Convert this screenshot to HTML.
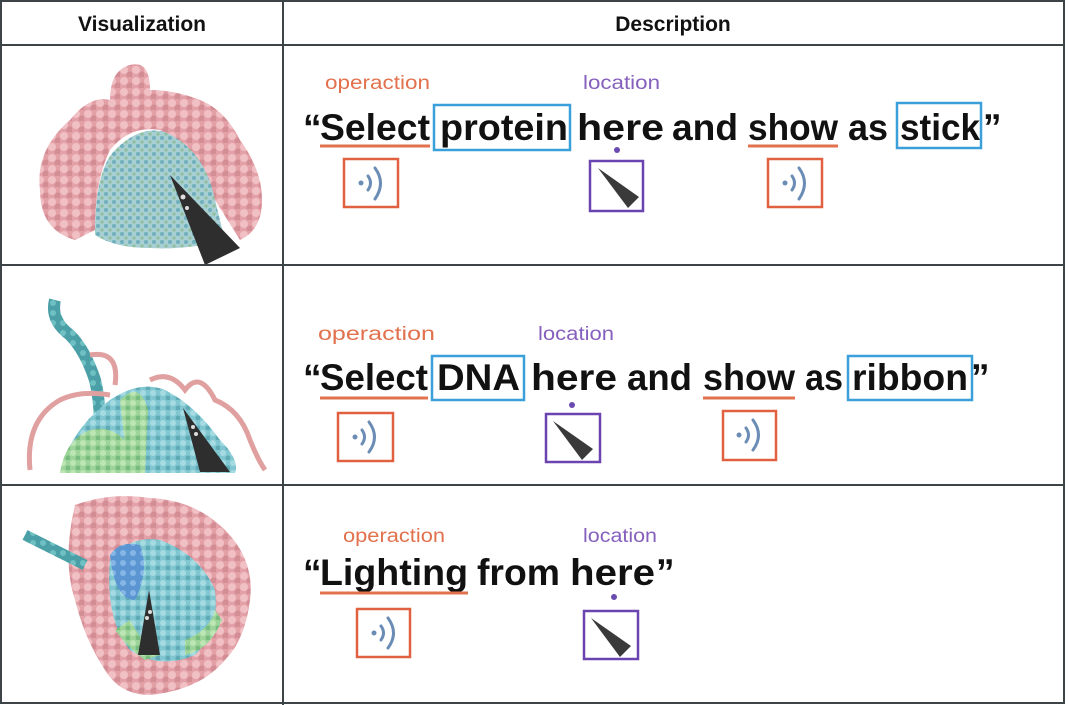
<!DOCTYPE html>
<html><head><meta charset="utf-8"><style>
html,body{margin:0;padding:0;background:#fff;}
svg{display:block;}
text{font-family:"Liberation Sans",sans-serif;}
</style></head><body>
<svg width="1068" height="705" viewBox="0 0 1068 705" xmlns="http://www.w3.org/2000/svg">
<defs>
 <pattern id="pp" width="12" height="11" patternUnits="userSpaceOnUse">
  <rect width="12" height="11" fill="#e3a0a7"/>
  <circle cx="4" cy="4" r="4" fill="#f0c0c4"/><circle cx="10" cy="9" r="3.5" fill="#d38d95"/>
 </pattern>
 <pattern id="pc" width="8" height="8" patternUnits="userSpaceOnUse">
  <rect width="8" height="8" fill="#a8cfd3"/>
  <circle cx="2" cy="2" r="2" fill="#6fb0bb"/><circle cx="6" cy="6" r="1.6" fill="#8fbf9a"/>
 </pattern>
 <pattern id="pc2" width="10" height="10" patternUnits="userSpaceOnUse">
  <rect width="10" height="10" fill="#80c7d2"/>
  <circle cx="3" cy="3" r="3" fill="#a6dbe2"/><circle cx="8" cy="8" r="2.5" fill="#5faab5"/>
 </pattern>
 <pattern id="pg" width="10" height="10" patternUnits="userSpaceOnUse">
  <rect width="10" height="10" fill="#9cd49a"/>
  <circle cx="3" cy="3" r="3" fill="#bde6b4"/><circle cx="8" cy="8" r="2.5" fill="#78bb7f"/>
 </pattern>
 <pattern id="pt" width="10" height="10" patternUnits="userSpaceOnUse">
  <rect width="10" height="10" fill="#4aa0a6"/>
  <circle cx="3" cy="3" r="3" fill="#6fc0c3"/>
 </pattern>
 <pattern id="pb" width="10" height="10" patternUnits="userSpaceOnUse">
  <rect width="10" height="10" fill="#5b96d2"/>
  <circle cx="3" cy="3" r="3" fill="#86b6e6"/>
 </pattern>
</defs>
<rect width="1068" height="705" fill="#fff"/>
<!-- row1 -->
<path d="M40,190 Q35,150 70,120 Q90,95 110,100 Q110,70 130,65 Q150,60 150,90 Q175,90 200,100 Q225,110 240,140 Q262,170 262,200 Q262,230 240,240 L215,200 Q200,150 160,130 Q130,125 110,150 Q95,180 95,230 L75,240 Q40,230 40,190Z" fill="url(#pp)"/>
<path d="M95,235 Q95,170 115,150 Q140,125 165,132 Q205,150 215,200 L225,240 Q190,250 150,248 Q115,248 95,235Z" fill="url(#pc)"/>
<!-- row2 -->
<path d="M55,300 Q50,320 70,335 Q85,350 95,380 Q100,400 100,430" stroke="url(#pt)" stroke-width="12" fill="none"/>
<path d="M60,473 Q70,430 110,400 Q140,380 165,390 Q195,405 220,440 Q240,460 235,473 Z" fill="url(#pc2)"/>
<path d="M60,473 Q65,440 90,430 Q110,425 125,440 L135,473Z" fill="url(#pg)"/>
<path d="M120,400 Q140,380 148,410 L145,473 L128,473Z" fill="url(#pg)"/>
<path d="M30,470 Q25,420 60,400 Q80,390 110,395 M90,355 Q120,350 115,385 M150,380 Q170,370 185,390 Q200,370 215,400 Q240,410 250,440 Q258,460 265,470" stroke="#e0a0a0" stroke-width="5" fill="none"/>
<!-- row3 -->
<path d="M75,505 Q110,492 150,498 Q195,500 225,530 Q255,560 250,600 Q245,640 225,660 Q200,690 150,695 Q120,695 105,670 Q85,640 75,600 Q62,560 75,505Z" fill="url(#pp)"/>
<path d="M110,560 Q130,535 160,540 Q200,555 215,590 Q220,630 195,655 Q160,670 130,650 Q105,620 110,560Z" fill="url(#pc2)"/>
<path d="M110,555 Q120,540 140,545 Q150,570 135,600 Q115,600 110,555Z" fill="url(#pb)"/>
<path d="M25,535 Q45,545 65,555 Q75,560 85,565" stroke="url(#pt)" stroke-width="11" fill="none"/>
<path d="M115,630 Q130,650 145,660 L160,655 Q140,640 130,620Z M185,640 Q210,630 215,610 L222,620 Q210,650 185,655Z" fill="url(#pg)"/>
<!-- cones -->
<path d="M170,175 L205,265 L240,248Z" fill="#2e2e2e"/>
<circle cx="183" cy="197" r="2.5" fill="#ddd"/><circle cx="187" cy="208" r="2" fill="#ddd"/>
<path d="M183,408 L200,472 L230,472Z" fill="#2e2e2e"/>
<circle cx="193" cy="427" r="2" fill="#ddd"/><circle cx="196" cy="434" r="2" fill="#ddd"/>
<path d="M149,590 L138,655 L160,655Z" fill="#2e2e2e"/>
<circle cx="150" cy="612" r="2" fill="#ddd"/><circle cx="147" cy="618" r="2" fill="#ddd"/>

<g stroke="#3c4447" stroke-width="2" fill="none">
 <rect x="1" y="1" width="1063" height="702"/>
 <line x1="0" y1="45" x2="1064" y2="45"/>
 <line x1="0" y1="265" x2="1064" y2="265"/>
 <line x1="0" y1="485" x2="1064" y2="485"/>
 <line x1="283" y1="0" x2="283" y2="705"/>
</g>
<text x="142" y="31" font-size="21" font-weight="bold" text-anchor="middle" fill="#111">Visualization</text>
<text x="673" y="31" font-size="21" font-weight="bold" text-anchor="middle" fill="#111">Description</text>

<g font-size="19">
 <text x="325" y="89" fill="#e2714d" textLength="105" lengthAdjust="spacingAndGlyphs">operaction</text>
 <text x="583" y="89" fill="#8660bd" textLength="77" lengthAdjust="spacingAndGlyphs">location</text>
 <text x="318" y="340" fill="#e2714d" textLength="117" lengthAdjust="spacingAndGlyphs">operaction</text>
 <text x="538" y="340" fill="#8660bd" textLength="76" lengthAdjust="spacingAndGlyphs">location</text>
 <text x="343" y="542" fill="#e2714d" textLength="102" lengthAdjust="spacingAndGlyphs">operaction</text>
 <text x="583" y="542" fill="#8660bd" textLength="74" lengthAdjust="spacingAndGlyphs">location</text>
</g>

<g font-size="37" font-weight="bold" fill="#111">
 <text x="303" y="140">“</text>
 <text x="320" y="140" textLength="110" lengthAdjust="spacingAndGlyphs">Select</text>
 <text x="440" y="140" textLength="128" lengthAdjust="spacingAndGlyphs">protein</text>
 <text x="577" y="140" textLength="87" lengthAdjust="spacingAndGlyphs">here</text>
 <text x="672" y="140" textLength="66" lengthAdjust="spacingAndGlyphs">and</text>
 <text x="748" y="140" textLength="90" lengthAdjust="spacingAndGlyphs">show</text>
 <text x="848" y="140" textLength="40" lengthAdjust="spacingAndGlyphs">as</text>
 <text x="900" y="140" textLength="80" lengthAdjust="spacingAndGlyphs">stick</text>
 <text x="983" y="140">”</text>

 <text x="303" y="390">“</text>
 <text x="320" y="390" textLength="108" lengthAdjust="spacingAndGlyphs">Select</text>
 <text x="437" y="390" textLength="83" lengthAdjust="spacingAndGlyphs">DNA</text>
 <text x="531" y="390" textLength="86" lengthAdjust="spacingAndGlyphs">here</text>
 <text x="627" y="390" textLength="65" lengthAdjust="spacingAndGlyphs">and</text>
 <text x="703" y="390" textLength="92" lengthAdjust="spacingAndGlyphs">show</text>
 <text x="805" y="390" textLength="38" lengthAdjust="spacingAndGlyphs">as</text>
 <text x="852" y="390" textLength="116" lengthAdjust="spacingAndGlyphs">ribbon</text>
 <text x="971" y="390">”</text>

 <text x="303" y="585">“</text>
 <text x="320" y="585" textLength="148" lengthAdjust="spacingAndGlyphs">Lighting</text>
 <text x="477" y="585" textLength="83" lengthAdjust="spacingAndGlyphs">from</text>
 <text x="570" y="585" textLength="85" lengthAdjust="spacingAndGlyphs">here</text>
 <text x="656" y="585">”</text>
</g>

<g stroke="#e2714d" stroke-width="3">
 <line x1="320" y1="146" x2="430" y2="146"/><line x1="748" y1="146" x2="838" y2="146"/>
 <line x1="320" y1="398" x2="428" y2="398"/><line x1="703" y1="398" x2="795" y2="398"/>
 <line x1="320" y1="593" x2="468" y2="593"/>
</g>
<g stroke="#3ba0d9" stroke-width="2.5" fill="none">
 <rect x="434" y="105" width="136" height="45"/>
 <rect x="897" y="103" width="84" height="45"/>
 <rect x="432" y="356" width="92" height="44"/>
 <rect x="848" y="356" width="124" height="44"/>
</g>
<g fill="#6a4cb0">
 <circle cx="617" cy="150" r="3"/><circle cx="572" cy="405" r="3"/><circle cx="614" cy="597" r="3"/>
</g>
<g fill="none" stroke="#e0603f" stroke-width="2.5">
 <rect x="344" y="159" width="54" height="48"/>
 <rect x="768" y="159" width="54" height="48"/>
 <rect x="338" y="413" width="55" height="48"/>
 <rect x="723" y="411" width="53" height="49"/>
 <rect x="357" y="609" width="53" height="48"/>
</g>
<g fill="none" stroke="#6b8cb5" stroke-width="3" stroke-linecap="round">
 <path d="M368,176 Q373,183 368,190 M375,168 Q386,183 375,199"/>
 <path d="M792,176 Q797,183 792,190 M799,168 Q810,183 799,199"/>
 <path d="M362,430 Q367,437 362,444 M369,422 Q380,437 369,452"/>
 <path d="M746,428 Q751,435 746,442 M753,420 Q764,435 753,450"/>
 <path d="M381,626 Q386,633 381,640 M388,618 Q399,633 388,648"/>
</g>
<g fill="#6b8cb5"><circle cx="361" cy="183" r="2.5"/><circle cx="785" cy="183" r="2.5"/><circle cx="355" cy="437" r="2.5"/><circle cx="739" cy="435" r="2.5"/><circle cx="374" cy="633" r="2.5"/></g>
<g fill="none" stroke="#6a45b0" stroke-width="2.5">
 <rect x="590" y="161" width="53" height="50"/>
 <rect x="546" y="414" width="54" height="48"/>
 <rect x="584" y="611" width="54" height="48"/>
</g>
<g fill="#3a3a3a">
 <path d="M598,168 L628,208 L639,197Z"/>
 <path d="M553,421 L582,460 L593,449Z"/>
 <path d="M591,618 L620,657 L631,646Z"/>
</g>
</svg>
</body></html>
